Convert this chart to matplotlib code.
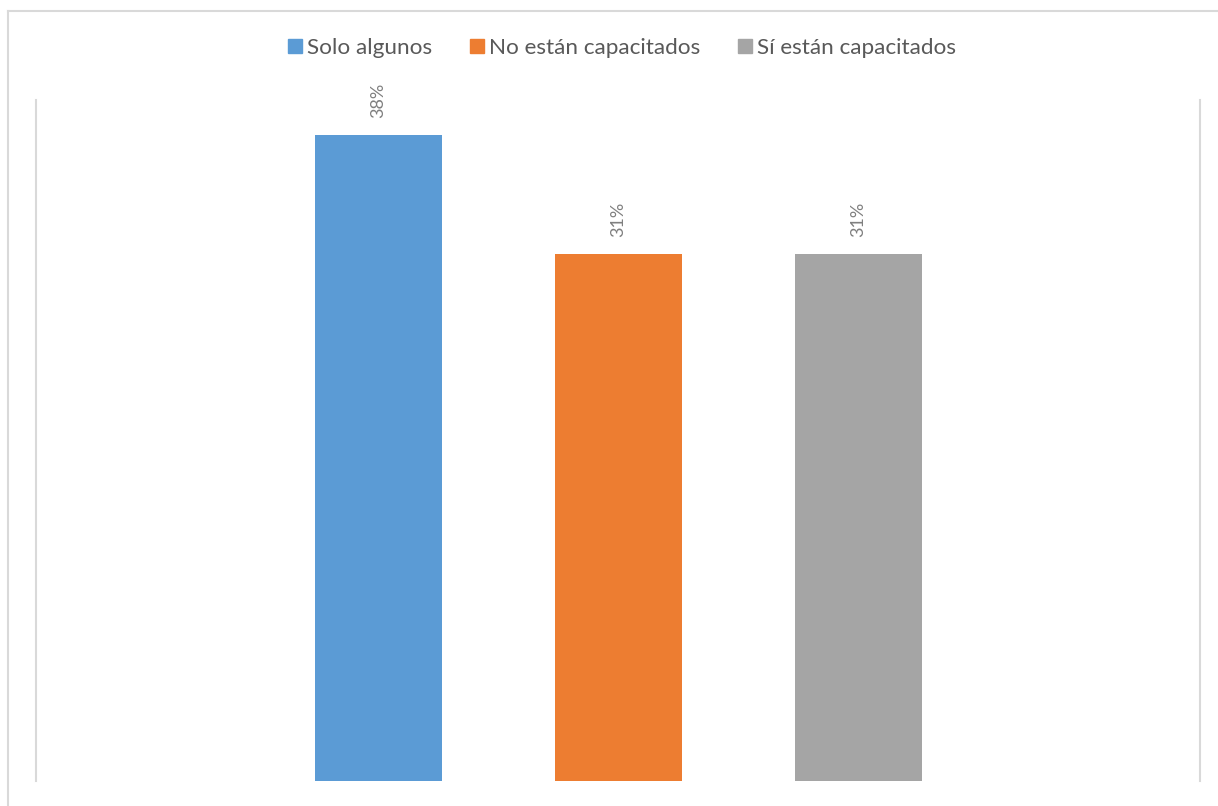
import matplotlib.pyplot as plt
from matplotlib.lines import Line2D
from matplotlib.patches import Patch

# data
categorias = ['Solo algunos', 'No están capacitados', 'Sí están capacitados']
valores = [0.38, 0.31, 0.31]
colores = ['#5B9BD5', '#ED7D31', '#A5A5A5']
etiquetas = ['38%', '31%', '31%']

W, H = 1218, 806
fig = plt.figure(figsize=(W / 100, H / 100), dpi=100)
plt.rcParams['font.family'] = ['Lato', 'DejaVu Sans']

ax = fig.add_axes([36 / W, 25 / H, (1200 - 36) / W, (781 - 100) / H])
x = list(range(len(valores)))
bars = ax.bar(x, valores, width=127 / 240, color=colores)

# rotated value labels above bars
for b, t in zip(bars, etiquetas):
    ax.annotate(t, (b.get_x() + b.get_width() / 2, b.get_height()),
                xytext=(0, 12.5), textcoords='offset points',
                rotation=90, ha='center', va='bottom',
                fontsize=13, color='#7F7F7F')

ax.set_xlim(-1.427, 3.423)
ax.set_ylim(0, 0.4006)
ax.set_xticks([])
ax.set_yticks([])
for s in ['top', 'bottom']:
    ax.spines[s].set_visible(False)
for s in ['left', 'right']:
    ax.spines[s].set_color('#D9D9D9')
    ax.spines[s].set_linewidth(1.5)

# outer chart border (only left and top visible)
fig.add_artist(Line2D([7.5 / W, 7.5 / W], [0, 1 - 10.5 / H], color='#D9D9D9', lw=1.5))
fig.add_artist(Line2D([7.5 / W, 1], [1 - 10.5 / H, 1 - 10.5 / H], color='#D9D9D9', lw=1.5))

handles = [Patch(color=c, label=l) for c, l in zip(colores, categorias)]
fig.legend(handles=handles, loc='center', bbox_to_anchor=(622 / W, 1 - 48 / H),
           ncol=3, frameon=False, fontsize=16.2, labelcolor='#595959',
           handlelength=0.62, handleheight=0.62, handletextpad=0.25,
           columnspacing=1.65)

fig.savefig('out.png', dpi=100)
